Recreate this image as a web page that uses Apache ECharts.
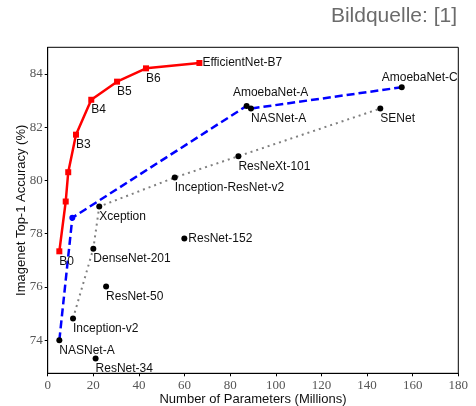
<!DOCTYPE html>
<html>
<head>
<meta charset="utf-8">
<script src="https://cdn.jsdelivr.net/npm/echarts@6/dist/echarts.min.js"></script>
<style>
  html, body { margin: 0; padding: 0; background: #fff; }
  #chart { width: 476px; height: 406px; }
</style>
</head>
<body>
<div id="chart"></div>
<script>
// EfficientNet family (red)
const effParams = [5.1, 7.9, 9.0, 12.4, 19.1, 30.4, 43.1, 66.5];
const effAcc = [77.34, 79.21, 80.31, 81.72, 83.03, 83.71, 84.21, 84.41];
const effNames = ['B0', '', '', 'B3', 'B4', 'B5', 'B6', 'EfficientNet-B7'];

// NASNet / AmoebaNet (blue dashed)
const nasParams = [5.1, 10.8, 87.2, 89.1, 155.2];
const nasAcc = [74.0, 78.6, 82.8, 82.7, 83.5];
const nasNames = ['NASNet-A', '', 'AmoebaNet-A', 'NASNet-A', 'AmoebaNet-C'];

// hand-designed nets (gray dotted)
const handParams = [11.1, 20.0, 22.6, 55.7, 83.6, 145.8];
const handAcc = [74.82, 77.44, 79.02, 80.11, 80.91, 82.70];
const handNames = ['Inception-v2', 'DenseNet-201', 'Xception', 'Inception-ResNet-v2', 'ResNeXt-101', 'SENet'];

// ResNets (single points)
const resParams = [59.9, 25.6, 21.0];
const resAcc = [77.82, 76.02, 73.32];
const resNames = ['ResNet-152', 'ResNet-50', 'ResNet-34'];

const yTicks = [74, 76, 78, 80, 82, 84];

const chart = echarts.init(document.getElementById('chart'));

// label under the point, starting at the point's x
function below(name) {
  return {
    show: name !== '',
    formatter: name,
    position: [3, 13],
    align: 'left',
    verticalAlign: 'middle',
    color: '#111',
    fontSize: 12,
    fontFamily: 'Liberation Sans'
  };
}
function custom(name, dx, dy, align) {
  return {
    show: true,
    formatter: name,
    position: [3 + dx, 3 + dy],
    align: align,
    verticalAlign: 'middle',
    color: '#111',
    fontSize: 12,
    fontFamily: 'Liberation Sans'
  };
}

const effData = effParams.map((x, i) => ({
  value: [x, effAcc[i]],
  label: i === effParams.length - 1 ? custom(effNames[i], 3, 0, 'left') : below(effNames[i])
}));

const nasData = nasParams.map((x, i) => {
  let label = below(nasNames[i]);
  if (nasNames[i] === 'AmoebaNet-A') label = custom(nasNames[i], 24, -13, 'center');
  if (nasNames[i] === 'AmoebaNet-C') label = custom(nasNames[i], 18, -10, 'center');
  return {
    value: [x, nasAcc[i]],
    itemStyle: { color: i === 1 ? '#0000ff' : '#000' },
    label: label
  };
});

const handData = handParams.map((x, i) => ({
  value: [x, handAcc[i]],
  label: below(handNames[i])
}));

const resData = resParams.map((x, i) => ({
  value: [x, resAcc[i]],
  label: i === 0 ? custom(resNames[i], 4, 0, 'left') : below(resNames[i])
}));

chart.setOption({
  animation: false,
  graphic: [{
    type: 'text',
    right: 19,
    top: 6,
    style: {
      text: 'Bildquelle: [1]',
      fill: '#6b6b6b',
      fontSize: 21,
      fontFamily: 'Liberation Sans'
    }
  }],
  grid: {
    left: 47.7,
    right: 17.7,
    top: 47.3,
    bottom: 32.7,
    outerBoundsMode: 'none',
    show: true,
    borderColor: '#000',
    borderWidth: 1
  },
  xAxis: {
    type: 'value',
    min: 0,
    max: 180,
    interval: 20,
    name: 'Number of Parameters (Millions)',
    nameLocation: 'middle',
    nameGap: 20,
    nameMoveOverlap: false,
    nameTextStyle: { color: '#111', fontSize: 13, fontFamily: 'Liberation Sans', verticalAlign: 'top' },
    axisLine: { show: true, lineStyle: { color: '#000' } },
    axisTick: { show: true, length: 3, lineStyle: { color: '#000' } },
    axisLabel: { color: '#555', fontSize: 13, fontFamily: 'Liberation Serif', margin: 6 },
    splitLine: { show: false }
  },
  yAxis: {
    type: 'value',
    min: 72.76,
    max: 85,
    name: 'Imagenet Top-1 Accuracy (%)',
    nameLocation: 'middle',
    nameGap: 20,
    nameMoveOverlap: false,
    nameTextStyle: { color: '#111', fontSize: 13, fontFamily: 'Liberation Sans' },
    axisLine: { show: true, lineStyle: { color: '#000' } },
    axisTick: { show: true, length: 3, customValues: yTicks, lineStyle: { color: '#000' } },
    axisLabel: { color: '#555', fontSize: 13, fontFamily: 'Liberation Serif', margin: 5, customValues: yTicks },
    splitLine: { show: false }
  },
  series: [
    {
      type: 'line',
      data: handData,
      symbol: 'circle',
      symbolSize: 6,
      itemStyle: { color: '#000' },
      lineStyle: { color: '#808080', width: 2, type: [2, 4] },
      z: 2
    },
    {
      type: 'line',
      data: nasData,
      symbol: 'circle',
      symbolSize: 6,
      lineStyle: { color: '#0000ff', width: 2.5, type: [8, 4] },
      z: 3
    },
    {
      type: 'line',
      data: effData,
      symbol: 'rect',
      symbolSize: 6,
      itemStyle: { color: '#ff0000' },
      lineStyle: { color: '#ff0000', width: 2.5 },
      z: 4
    },
    {
      type: 'scatter',
      data: resData,
      symbol: 'circle',
      symbolSize: 6,
      itemStyle: { color: '#000', opacity: 1 },
      z: 4
    }
  ]
});
</script>
</body>
</html>
